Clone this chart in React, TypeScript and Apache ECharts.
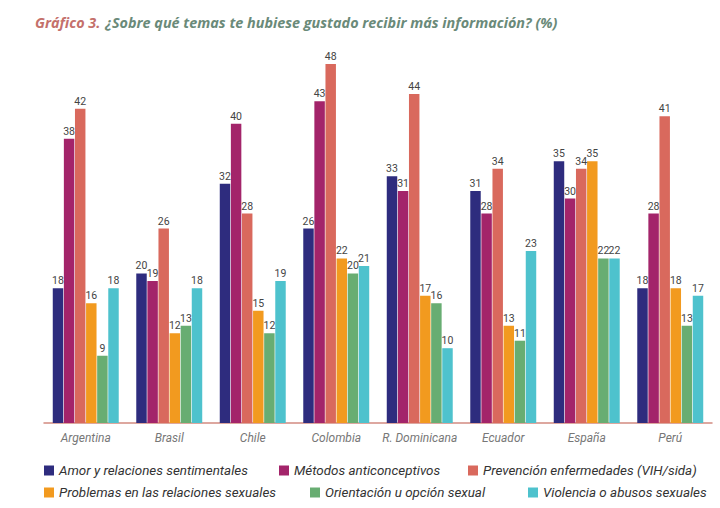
import React, { useEffect, useRef } from "react";
import * as echarts from "echarts";

const categories = ["Argentina", "Brasil", "Chile", "Colombia", "R. Dominicana", "Ecuador", "España", "Perú"];
const seriesNames = [
  "Amor y relaciones sentimentales",
  "Métodos anticonceptivos",
  "Prevención enfermedades (VIH/sida)",
  "Problemas en las relaciones sexuales",
  "Orientación u opción sexual",
  "Violencia o abusos sexuales",
];
const amor = [18, 20, 32, 26, 33, 31, 35, 18];
const metodos = [38, 19, 40, 43, 31, 28, 30, 28];
const prevencion = [42, 26, 28, 48, 44, 34, 34, 41];
const problemas = [16, 12, 15, 22, 17, 13, 35, 18];
const orientacion = [9, 13, 12, 20, 16, 11, 22, 13];
const violencia = [18, 18, 19, 21, 10, 23, 22, 17];
const colors = ["#2e2c7e", "#a3246a", "#d9695d", "#f29a1f", "#68ad72", "#4ec2cd"];

const legendPos = [
  { left: 44, top: 464 },
  { left: 279, top: 464 },
  { left: 468, top: 464 },
  { left: 44, top: 486 },
  { left: 310, top: 486 },
  { left: 528, top: 486 },
];

export default function App() {
  const ref = useRef<HTMLDivElement>(null);
  useEffect(() => {
    const chart = echarts.init(ref.current!, null, { renderer: "svg" });
    const values = [amor, metodos, prevencion, problemas, orientacion, violencia];
    chart.setOption({
      animation: false,
      backgroundColor: "#ffffff",
      color: colors,
      title: {
        left: 30,
        top: 8,
        text: "{a|Gráfico 3.} {b|¿Sobre qué temas te hubiese gustado recibir más información? (%)}",
        textStyle: {
          rich: {
            a: { color: "#c4706b", fontSize: 14.4, fontWeight: "bold", fontStyle: "italic", fontFamily: "Open Sans" },
            b: { color: "#6a8a79", fontSize: 14.4, fontWeight: "bold", fontStyle: "italic", fontFamily: "Open Sans" },
          },
        },
      },
      legend: legendPos.map((p, i) => ({
        data: [seriesNames[i]],
        left: p.left,
        top: p.top,
        padding: 0,
        itemWidth: 10,
        itemHeight: 10,
        itemGap: 4,
        icon: "rect",
        textStyle: { fontFamily: "Roboto", fontStyle: "italic", fontSize: 13.4, color: "#333" },
      })),
      grid: { left: 44, right: 8, top: 49, bottom: 85 },
      xAxis: {
        type: "category",
        data: categories,
        axisTick: { show: false },
        axisLine: { lineStyle: { color: "#d28a80", width: 1.5 } },
        axisLabel: { interval: 0, margin: 9, color: "#777", fontFamily: "Roboto", fontStyle: "italic", fontSize: 12 },
      },
      yAxis: { type: "value", min: 0, max: 50, show: false, splitLine: { show: false } },
      series: values.map((v, i) => ({
        name: seriesNames[i],
        type: "bar",
        data: v,
        barGap: "6%",
        barCategoryGap: "21%",
        label: {
          show: true,
          position: "top",
          distance: 2,
          color: "#444",
          fontFamily: "Roboto",
          fontSize: 10.5,
        },
      })),
    });
    return () => chart.dispose();
  }, []);
  return <div ref={ref} style={{ position: "absolute", left: 0, top: 0, width: 720, height: 508 }} />;
}
